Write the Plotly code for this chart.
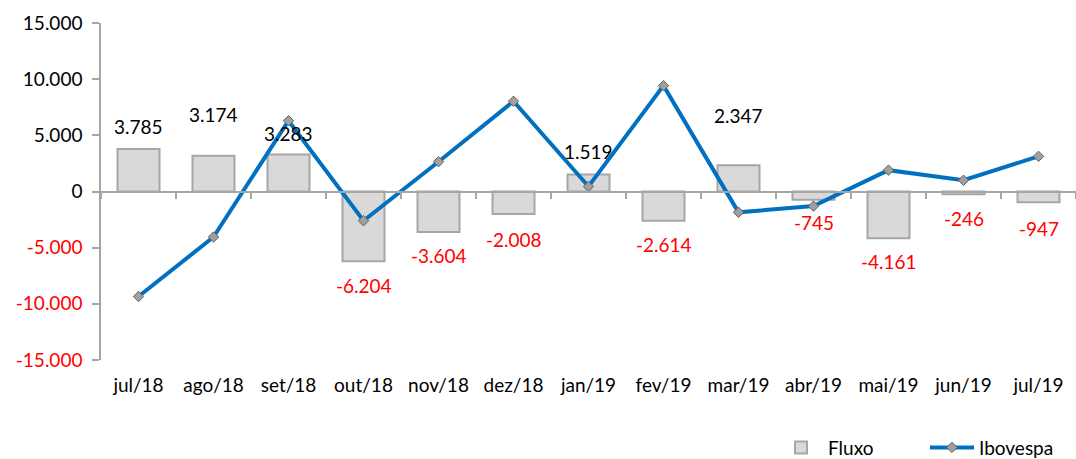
import plotly.graph_objects as go

categories = ["jul/18", "ago/18", "set/18", "out/18", "nov/18", "dez/18", "jan/19",
              "fev/19", "mar/19", "abr/19", "mai/19", "jun/19", "jul/19"]
fluxo = [3785, 3174, 3283, -6204, -3604, -2008, 1519, -2614, 2347, -745, -4161, -246, -947]
ibovespa = [-9350, -4050, 6300, -2600, 2650, 8030, 450, 9420, -1850, -1300, 1900, 1000, 3130]
y_ticks = [15000, 10000, 5000, 0, -5000, -10000, -15000]

# label offsets in pixels (visual placement)
label_shift = [22, 41, 21, -24, -24, -25, 23, -24, 50, -23, -23, -24, -26]

FONT = "Lato"
RED = "#ff0000"
FS = 19


def fmt(v):
    s = f"{abs(v):,}".replace(",", ".")
    return ("-" if v < 0 else "") + s


fig = go.Figure()

fig.add_trace(go.Bar(
    x=categories, y=fluxo, name="Fluxo", xaxis="x",
    marker=dict(color="#d9d9d9", line=dict(color="#a6a6a6", width=2)),
    width=0.56,
))
fig.add_trace(go.Scatter(
    x=categories, y=ibovespa, name="Ibovespa", mode="lines+markers", xaxis="x2",
    line=dict(color="#0070c0", width=4),
    marker=dict(symbol="diamond", size=8, color="#a0a0a0",
                line=dict(color="#606060", width=1)),
))

for c, v, sh in zip(categories, fluxo, label_shift):
    fig.add_annotation(
        x=c, y=v, text=fmt(v), showarrow=False, yshift=sh, xref="x", yref="y",
        font=dict(family=FONT, size=FS, color="black" if v >= 0 else RED),
    )

ticktext = [
    fmt(v) if v >= 0 else f"<span style='color:{RED}'>{fmt(v)}</span>" for v in y_ticks
]

xrange = [-0.5, len(categories) - 0.5]

fig.update_layout(
    width=1076, height=459,
    margin=dict(l=101, r=0, t=23, b=99),
    paper_bgcolor="white", plot_bgcolor="white",
    font=dict(family=FONT, size=FS, color="black"),
    showlegend=True,
    legend=dict(orientation="h", x=0.695, xanchor="left",
                yref="container", y=0.025, yanchor="middle",
                itemwidth=44, entrywidth=92,
                font=dict(family=FONT, size=FS), traceorder="normal"),
    xaxis=dict(
        categoryorder="array", categoryarray=categories, automargin=False,
        range=xrange, autorange=False,
        showline=False, showgrid=False, zeroline=False, ticks="",
        ticklabelstandoff=12, tickfont=dict(family=FONT, size=FS),
    ),
    xaxis2=dict(
        overlaying="x", matches="x", anchor="free", position=0.5, automargin=False,
        categoryorder="array", categoryarray=categories,
        showline=True, linecolor="#a6a6a6", linewidth=1.5,
        showgrid=False, zeroline=False, showticklabels=False,
        ticks="outside", ticklen=7, tickcolor="#a6a6a6", tickwidth=1.5,
        tickson="boundaries",
    ),
    yaxis=dict(
        range=[-15000, 15000], tickvals=y_ticks, ticktext=ticktext, automargin=False,
        showline=True, linecolor="#a6a6a6", linewidth=1.5,
        ticks="outside", ticklen=7, tickcolor="#a6a6a6", tickwidth=1.5,
        showgrid=False, zeroline=False, ticklabelstandoff=6,
        tickfont=dict(family=FONT, size=FS),
    ),
)

fig.write_html("out.html", config={"displayModeBar": False},
               post_script="document.body.style.margin='0';")
